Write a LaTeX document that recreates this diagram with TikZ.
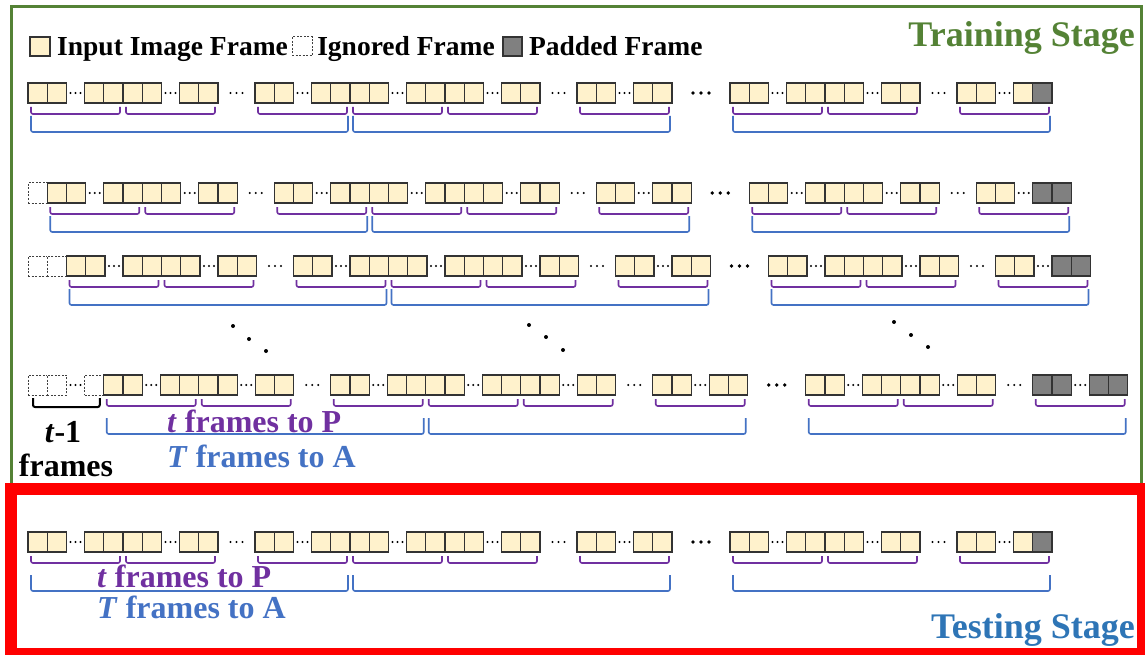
\documentclass[tikz,border=0pt]{standalone}
\usepackage{fontspec}
\setmainfont{Liberation Serif}
\usetikzlibrary{positioning,calc}
\definecolor{Cream}{HTML}{FFF2CC}
\definecolor{PadGray}{HTML}{808080}
\definecolor{Plum}{HTML}{7030A0}
\definecolor{SkyBlue}{HTML}{4472C4}
\definecolor{Leaf}{HTML}{548235}
\definecolor{Steel}{HTML}{2E75B6}

% one window: two frames, dots, two frames, purple bracket below
\newcommand{\fwin}[6]{%
  \node[#3,#2] (#1-1) {};
  \node[#4, right=0pt of #1-1] (#1-2) {};
  \node[fgap, right=0pt of #1-2] (#1-d) {};
  \node[#5, right=0pt of #1-d] (#1-3) {};
  \node[#6, right=0pt of #1-3] (#1-4) {};
  \foreach \k in {-5,0,5}
    \fill ([xshift=\k pt]#1-d.center) circle (1.1pt);
  \draw[pbr] ([xshift=3pt,yshift=-4pt]#1-1.south west) -- ++(0pt,-7pt)
    -| ([xshift=-3pt,yshift=-4pt]#1-4.south east);
}
% one group: two windows, a gap, a third window, blue bracket below
\newcommand{\fgroup}[7]{%
  \fwin{#1a}{#2}{fin}{fin}{fin}{fin}
  \fwin{#1b}{right=0pt of #1a-4}{fin}{fin}{fin}{fin}
  \fwin{#1c}{right=37pt of #1b-4}{#3}{#4}{#5}{#6}
  \foreach \k in {-6,0,6}
    \fill ($(#1b-4.east)!0.5!(#1c-1.west)+(\k pt,0pt)$) circle (1.1pt);
  \draw[bbr] ([xshift=3pt,yshift=-#7pt]#1a-1.south west) -- ++(0pt,-16pt)
    -| ([xshift=-2pt,yshift=-#7pt]#1c-4.south east);
}
% one row: three groups, the last one with its own frame styles
\newcommand{\frow}[7]{%
  \fgroup{#1A}{#2}{fin}{fin}{fin}{fin}{#7}
  \fgroup{#1B}{right=0pt of #1Ac-4}{fin}{fin}{fin}{fin}{#7}
  \fgroup{#1C}{right=58pt of #1Bc-4}{#3}{#4}{#5}{#6}{#7}
  \foreach \k in {-8,0,8}
    \fill ($(#1Bc-4.east)!0.5!(#1Ca-1.west)+(\k pt,0pt)$) circle (1.8pt);
}

\begin{document}
\begin{tikzpicture}[x=1pt, y=-1pt,
  fin/.style={draw=black!80, fill=Cream, line width=1.4pt, minimum width=19.25pt,
              minimum height=20pt, inner sep=0pt, outer sep=0pt},
  fpad/.style={fin, fill=PadGray},
  fign/.style={fin, draw=black!75, fill=white, line width=1pt,
               dash pattern=on 2pt off 1.5pt},
  fgap/.style={minimum width=18pt, minimum height=20pt, inner sep=0pt, outer sep=0pt},
  pbr/.style={draw=Plum, line width=1.6pt, rounded corners=2pt},
  bbr/.style={draw=SkyBlue, line width=1.6pt, rounded corners=2pt},
  legtxt/.style={inner sep=0pt, font=\bfseries\fontsize{27.5}{30}\selectfont},
  lbl/.style={inner sep=0pt, anchor=base west, font=\bfseries\fontsize{32}{36}\selectfont},
  stage/.style={inner sep=0pt, anchor=base east, font=\bfseries\fontsize{36}{40}\selectfont}]
  \useasboundingbox (0,0) rectangle (1145,655);
  \fill[white] (0,0) rectangle (1145,655);
  \draw[Leaf, line width=3pt] (11,7) rectangle (1141,487);
  \node[stage, text=Leaf] (train) at (1135,47) {Training Stage};

  % legend
  \node[fin, minimum width=20pt, minimum height=19pt, anchor=north west] (lin) at (30,37) {};
  \node[legtxt, right=7pt of lin.south east, anchor=base west] (lint) {Input Image Frame};
  \node[fign, minimum width=20pt, minimum height=19pt, right=4pt of lint.base east, anchor=south west] (lign) {};
  \node[legtxt, right=5pt of lign.south east, anchor=base west] (ligt) {Ignored Frame};
  \node[fpad, minimum width=19pt, minimum height=19pt, right=8pt of ligt.base east, anchor=south west] (lpad) {};
  \node[legtxt, right=7pt of lpad.south east, anchor=base west] (lpadt) {Padded Frame};

  % training rows
  \frow{r1}{at={(28,83)}, anchor=north west}{fin}{fin}{fin}{fpad}{13}

  \node[fign, anchor=north west] (r2i1) at (28,183) {};
  \frow{r2}{right=0pt of r2i1}{fin}{fin}{fpad}{fpad}{13}

  \node[fign, anchor=north west] (r3i1) at (28,256) {};
  \node[fign, right=0pt of r3i1] (r3i2) {};
  \frow{r3}{right=0pt of r3i2}{fin}{fin}{fpad}{fpad}{13}

  \foreach \p in {(233,326),(249,339),(266,351),(529,325),(546,337),(563,350),
                  (894,322),(911,335),(928,347)}
    \fill \p circle (2pt);

  \node[fign, anchor=north west] (r4i1) at (28,375) {};
  \node[fign, right=0pt of r4i1] (r4i2) {};
  \node[fgap, right=0pt of r4i2] (r4id) {};
  \node[fign, right=0pt of r4id] (r4i3) {};
  \foreach \k in {-5,0,5}
    \fill ([xshift=\k pt]r4id.center) circle (1.1pt);
  \frow{r4}{right=0pt of r4i3}{fpad}{fpad}{fpad}{fpad}{23}
  \draw[line width=2pt, rounded corners=2pt] ([xshift=5pt,yshift=-3pt]r4i1.south west)
    -- ++(0pt,-9pt) -| ([xshift=-4pt,yshift=-3pt]r4i3.south east);
  \node[lbl, anchor=base] (r4t) at (63,442) {\textit{t}-1};
  \node[lbl, anchor=base] (r4f) at (66,476) {frames};
  \node[lbl, text=Plum] (r4p) at (167,432) {\textit{t} frames to P};
  \node[lbl, text=SkyBlue] (r4a) at (167,467) {\textit{T} frames to A};

  % testing stage
  \draw[red, line width=12pt] (11,489) rectangle (1143,654);
  \frow{te}{at={(28,532)}, anchor=north west}{fin}{fin}{fin}{fpad}{23}
  \node[lbl, text=Plum] (tep) at (97,587) {\textit{t} frames to P};
  \node[lbl, text=SkyBlue] (tea) at (97,618) {\textit{T} frames to A};
  \node[stage, text=Steel] (test) at (1135,638) {Testing Stage};
\end{tikzpicture}
\end{document}
